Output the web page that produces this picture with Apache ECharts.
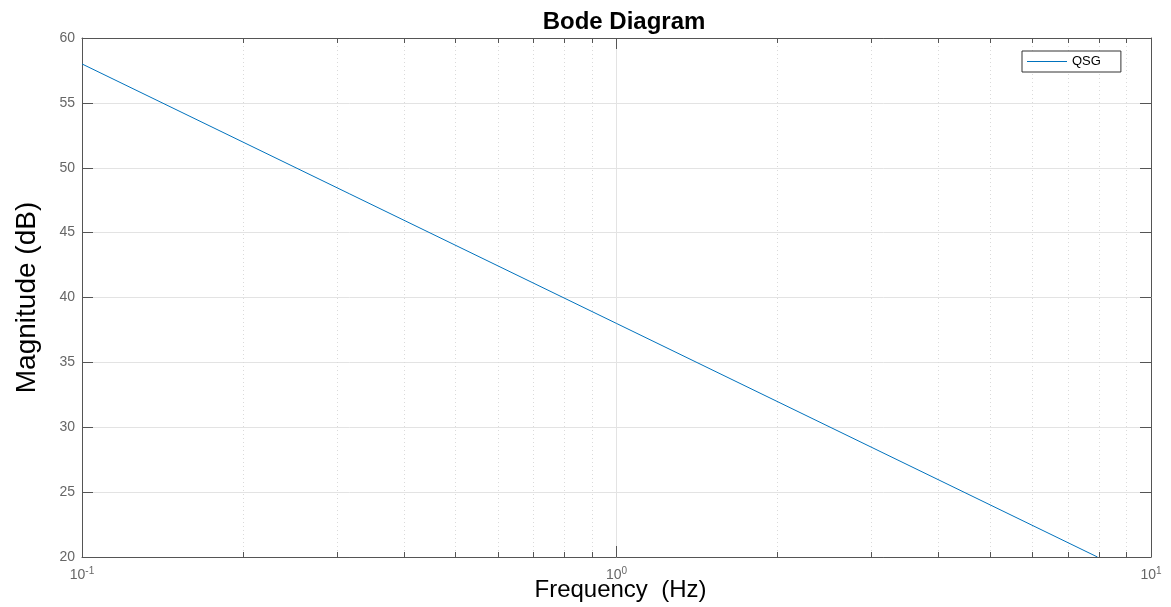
<!DOCTYPE html>
<html>
<head>
<meta charset="utf-8">
<title>Bode Diagram</title>
<script src="https://cdn.jsdelivr.net/npm/echarts@6/dist/echarts.min.js"></script>
<style>
  html, body { margin: 0; padding: 0; background: #fff; }
  #chart { width: 1171px; height: 607px; }
</style>
</head>
<body>
<div id="chart"></div>
<script>
  // values
  var freq = [0.1, 1, 7.94]
  var magnitude = [58, 38, 20]
  var majorFreq = [0.1, 1, 10]
  var minorFreq = [0.2, 0.3, 0.4, 0.5, 0.6, 0.7, 0.8, 0.9, 2, 3, 4, 5, 6, 7, 8, 9]
  var seriesName = 'QSG'

  var lineColor = '#0072BD'
  var axisColor = '#555'
  var labelColor = '#666'
  var font = 'Liberation Sans, Arial, sans-serif'

  function pairs (xs, ys) {
    var out = []
    for (var i = 0; i < xs.length; i++) {
      out.push([xs[i], ys[i]])
    }
    return out
  }

  function logAxis (position, opts) {
    var base = {
      type: 'log',
      logBase: 10,
      min: 0.1,
      max: 10,
      position: position,
      axisLine: { show: true, onZero: false, lineStyle: { color: axisColor, width: 1 } },
      axisTick: { show: true, inside: true, length: 11, lineStyle: { color: axisColor } },
      axisLabel: { show: false },
      splitLine: { show: false },
      axisPointer: { show: false }
    }
    return Object.assign(base, opts || {})
  }

  var chart = echarts.init(document.getElementById('chart'))
  var option = {
    animation: false,
    color: [lineColor],
    title: {
      text: 'Bode Diagram',
      left: 619,
      textAlign: 'center',
      top: 5,
      textStyle: { fontFamily: font, fontSize: 24, fontWeight: 'bold', color: '#000' }
    },
    legend: {
      data: [seriesName],
      icon: 'path://M0 0H40V1.2H0Z',
      left: 1022,
      top: 51,
      orient: 'vertical',
      padding: [3, 20, 3, 5],
      itemWidth: 40,
      itemHeight: 1.2,
      itemGap: 5,
      itemStyle: { color: lineColor, borderWidth: 0, opacity: 1 },
      borderColor: '#333',
      borderWidth: 1,
      borderRadius: 0,
      backgroundColor: '#fff',
      textStyle: { fontFamily: font, fontSize: 13, color: '#000', lineHeight: 15 }
    },
    grid: { left: 82, right: 20, top: 38, bottom: 50, outerBoundsMode: 'none', containLabel: false },
    xAxis: [
      logAxis('bottom', {
        axisTick: { show: true, inside: true, length: 11, lineStyle: { color: axisColor }, customValues: majorFreq },
        axisLabel: {
          show: true,
          showMinLabel: true,
          showMaxLabel: true,
          margin: 9,
          customValues: majorFreq,
          formatter: function (v) {
            return '{b|10}{s|' + Math.round(Math.log10(v)) + '}'
          },
          rich: {
            b: { fontFamily: font, fontSize: 14, color: labelColor },
            s: { fontFamily: font, fontSize: 10, color: labelColor, padding: [0, 0, 9, 0] }
          }
        },
        splitLine: { show: true, lineStyle: { color: '#e3e3e3', width: 1 } },
        name: 'Frequency  (Hz)',
        nameLocation: 'middle',
        nameGap: 21,
        nameMoveOverlap: false,
        nameTextStyle: { fontFamily: font, fontSize: 24, color: '#000', padding: [0, 0, 0, 8] }
      }),
      logAxis('bottom', {
        axisLine: { show: false, onZero: false },
        axisTick: { show: true, inside: true, length: 5, lineStyle: { color: axisColor }, customValues: minorFreq },
        splitLine: { show: true, lineStyle: { color: '#dadada', width: 1, type: [1, 3] } }
      }),
      logAxis('top', {
        axisTick: { show: true, inside: true, length: 11, lineStyle: { color: axisColor }, customValues: majorFreq }
      }),
      logAxis('top', {
        axisLine: { show: false, onZero: false },
        axisTick: { show: true, inside: true, length: 5, lineStyle: { color: axisColor }, customValues: minorFreq }
      })
    ],
    yAxis: [
      {
        type: 'value',
        min: 20,
        max: 60,
        interval: 5,
        position: 'left',
        axisLine: { show: true, lineStyle: { color: axisColor, width: 1 } },
        axisTick: { show: true, inside: true, length: 11, lineStyle: { color: axisColor } },
        axisLabel: { fontFamily: font, fontSize: 14, color: labelColor, margin: 7 },
        splitLine: { show: true, lineStyle: { color: '#e3e3e3', width: 1 } },
        name: 'Magnitude (dB)',
        nameLocation: 'middle',
        nameGap: 41,
        nameMoveOverlap: false,
        nameTextStyle: { fontFamily: font, fontSize: 28, color: '#000' }
      },
      {
        type: 'value',
        min: 20,
        max: 60,
        interval: 5,
        position: 'right',
        axisLine: { show: true, lineStyle: { color: axisColor, width: 1 } },
        axisTick: { show: true, inside: true, length: 11, lineStyle: { color: axisColor } },
        axisLabel: { show: false },
        splitLine: { show: false }
      }
    ],
    series: [
      {
        name: seriesName,
        type: 'line',
        xAxisIndex: 0,
        yAxisIndex: 0,
        data: pairs(freq, magnitude),
        symbol: 'none',
        color: lineColor,
        lineStyle: { color: lineColor, width: 1 },
        itemStyle: { color: lineColor }
      }
    ]
  }
  chart.setOption(option)
</script>
</body>
</html>
